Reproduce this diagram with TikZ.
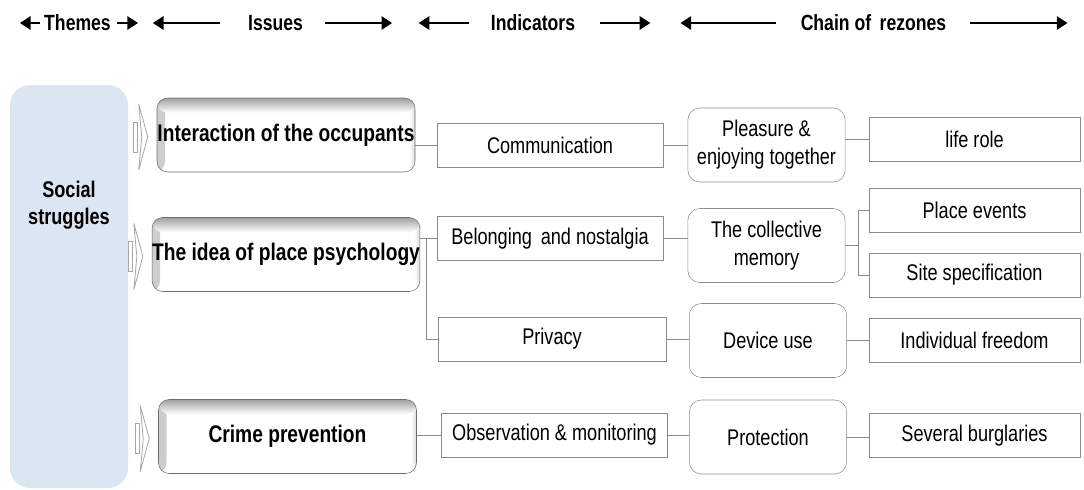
\documentclass[tikz,border=0pt]{standalone}
\usepackage{fontspec}
\setmainfont{Liberation Sans}[FakeStretch=0.8]
\usetikzlibrary{positioning,arrows.meta,calc}
\definecolor{linegray}{HTML}{8A8A8A}
\definecolor{framegray}{HTML}{6E6E6E}
\definecolor{socblue}{HTML}{DCE6F2}

\begin{document}
\begin{tikzpicture}[x=0.75pt,y=-0.75pt,
    hd/.style={font=\fontsize{16.5}{20}\selectfont\bfseries,inner sep=0pt},
    hdr/.style={line width=1.5pt,-{Triangle[length=8pt,width=10pt]}},
    txt/.style={font=\fontsize{17}{21}\selectfont,align=center,inner sep=0pt},
    issue/.style={txt,font=\fontsize{18}{21}\selectfont\bfseries,draw=framegray,rounded corners=8pt,fill=white,
      minimum width=193.5pt,minimum height=55.5pt,
      path picture={
        \shade[left color=gray!40,right color=white] (path picture bounding box.north west) rectangle ([xshift=6pt]path picture bounding box.south west);
        \shade[right color=gray!30,left color=white] (path picture bounding box.north east) rectangle ([xshift=-4pt]path picture bounding box.south east);
        \shade[top color=gray!75,bottom color=white] (path picture bounding box.north west) rectangle ([yshift=-11pt]path picture bounding box.north east);}},
    ind/.style={txt,draw=linegray,minimum width=169.5pt,minimum height=33pt},
    chn/.style={txt,draw=linegray,rounded corners=9pt,minimum width=118pt,minimum height=55.5pt},
    leaf/.style={txt,draw=linegray,minimum width=158pt,minimum height=33pt},
    con/.style={draw=linegray,line width=0.75pt},
    blk/.style={draw=gray!70,line width=0.6pt,fill=white}]
  \useasboundingbox (0,0) rectangle (1084,489);

  % header
  \node[hd] (themes) at (77.5,23) {Themes};
  \node[hd] (issues) at (275.5,23) {Issues};
  \node[hd] (indic) at (533,23) {Indicators};
  \node[hd] (chain) at (873.5,23) {Chain of\, rezones};
  \draw[hdr] ($(themes.west)+(-4,0)$) -- ++(-20,0);
  \draw[hdr] ($(themes.east)+(6,0)$) -- ++(21,0);
  \draw[hdr] ($(issues.west)+(-28,0)$) -- ++(-67,0);
  \draw[hdr] ($(issues.east)+(22,0)$) -- ++(67,0);
  \draw[hdr] ($(indic.west)+(-22,0)$) -- ++(-50,0);
  \draw[hdr] ($(indic.east)+(25,0)$) -- ++(50,0);
  \draw[hdr] ($(chain.west)+(-25,0)$) -- ++(-95,0);
  \draw[hdr] ($(chain.east)+(23,0)$) -- ++(98,0);

  % theme
  \fill[socblue,rounded corners=15pt] (10,85) rectangle (128,488);
  \node[txt,font=\fontsize{17}{20}\selectfont\bfseries] (soc) at (69,205) {Social\\struggles};

  % issues
  \node[issue] (i1) at (286,135) {Interaction of the occupants};
  \node[issue] (i2) at (286,254.5) {The idea of place psychology};
  \node[issue] (i3) at (287.5,436.5) {Crime prevention};
  \foreach \n in {i1,i2,i3}{
    \draw[blk] ($(\n.west)+(-23,-13)$) rectangle ($(\n.west)+(-19,17)$);
    \draw[blk] ($(\n.west)+(-18,-31)$) -- ($(\n.west)+(-9,2)$) -- ($(\n.west)+(-18,35)$) -- ($(\n.west)+(-15,2)$) -- cycle;
  }

  % indicators
  \node[ind] (comm) at (550,145.5) {Communication};
  \node[ind] (belong) at (550,238.5) {Belonging\, and nostalgia};
  \node[ind,minimum width=171pt] (priv) at (552,339) {Privacy};
  \node[ind] (obs) at (554.5,435) {Observation \& monitoring};

  % chain of rezones
  \node[chn] (plea) at (766.5,145) {Pleasure \&\\enjoying together};
  \node[chn] (coll) at (766.5,245.5) {The collective\\memory};
  \node[chn] (dev) at (768,340.5) {Device use};
  \node[chn] (prot) at (768,437) {Protection};

  \node[leaf] (life) at (974.5,139) {life role};
  \node[leaf] (place) at (974.5,210.5) {Place events};
  \node[leaf] (site) at (974.5,275) {Site specification};
  \node[leaf] (free) at (974.5,340) {Individual freedom};
  \node[leaf] (burg) at (974.5,435.5) {Several burglaries};

  % connectors
  \draw[con] (comm.west) -- (comm.west -| i1.east);
  \draw[con] (comm.east) -- (comm.east -| plea.west);
  \draw[con] (life.west) -- (life.west -| plea.east);
  \coordinate (j2) at ($(belong.west)+(-10,0)$);
  \draw[con] (belong.west) -- (belong.west -| i2.east);
  \draw[con] (j2) |- (priv.west);
  \draw[con] (belong.east) -- (belong.east -| coll.west);
  \coordinate (j3) at ($(coll.east)+(13,0)$);
  \draw[con] (coll.east) -- (j3);
  \draw[con] (place.west) -| (j3) |- (site.west);
  \draw[con] (priv.east) -- (priv.east -| dev.west);
  \draw[con] (dev.east) -- (dev.east -| free.west);
  \draw[con] (obs.west) -- (obs.west -| i3.east);
  \draw[con] (obs.east) -- (obs.east -| prot.west);
  \draw[con] (prot.east) -- (prot.east -| burg.west);
\end{tikzpicture}
\end{document}
